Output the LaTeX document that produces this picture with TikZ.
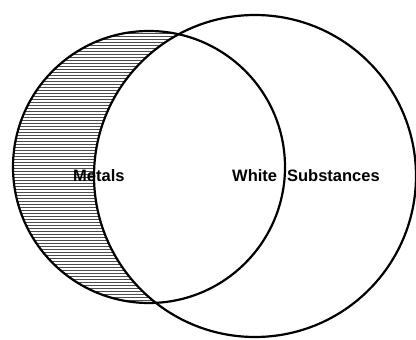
\documentclass[tikz,border=0pt]{standalone}
\usepackage{fontspec}
\setmainfont{Liberation Sans}
\usepackage{tikz}
\usetikzlibrary{positioning}

\begin{document}
\begin{tikzpicture}[
  x=1pt, y=-1pt,
  ring/.style={draw, line width=2.2pt},
  hatch/.style={draw=black!70, line width=0.9pt},
  label/.style={font=\fontsize{16.5}{18}\selectfont\bfseries, inner sep=0pt, anchor=base west}
]
\useasboundingbox (0,0) rectangle (416,340);
\coordinate (mc) at (149,167);
\coordinate (wc) at (255,176);

% hatched part of the metals circle
\begin{scope}
  \clip (mc) circle (136);
  \foreach \y in {30,33,...,306}
    \draw[hatch] (10,\y) -- (290,\y);
\end{scope}
\fill[white] (wc) circle (161);

\draw[ring] (mc) circle (136);
\draw[ring] (wc) circle (161);

\node[label] (metals) at (73,181) {Metals};
\node[label] (white) at (232,181) {White\hspace{10pt}Substances};
\end{tikzpicture}
\end{document}
